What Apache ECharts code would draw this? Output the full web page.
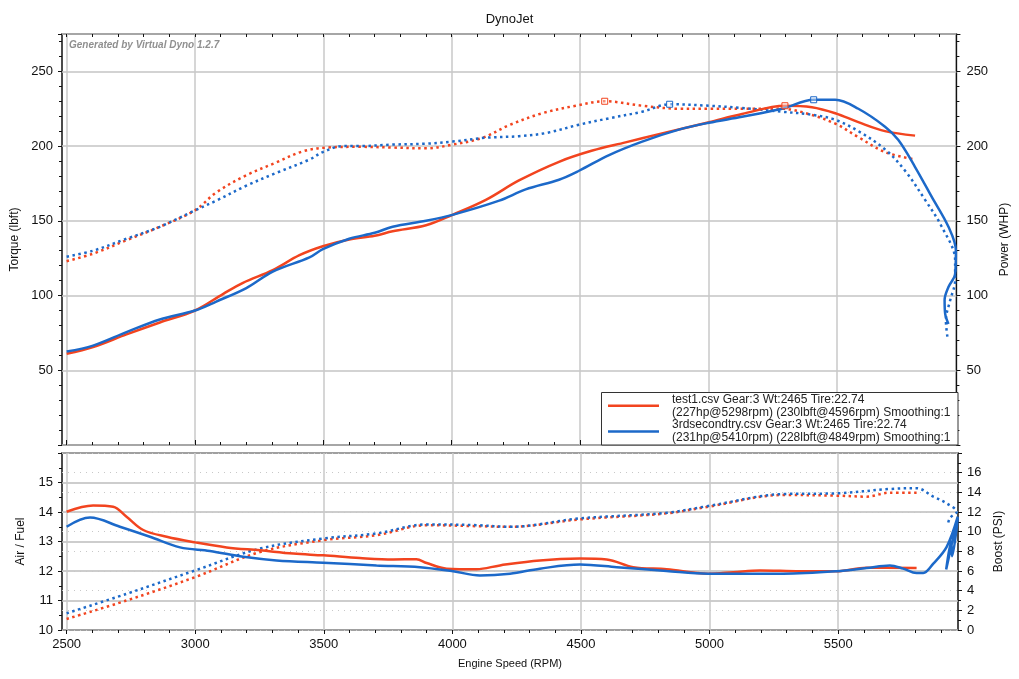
<!DOCTYPE html>
<html>
<head>
<meta charset="utf-8">
<script src="https://cdn.jsdelivr.net/npm/echarts@6/dist/echarts.min.js"></script>
<style>
html,body{margin:0;padding:0;background:#fff;}
#chart{width:1019px;height:679px;}
</style>
</head>
<body>
<div id="chart"></div>
<script>
// ---------- tick labels ----------
const rpmMajorTicks = [2500, 3000, 3500, 4000, 4500, 5000, 5500];
const rpmMinorTicks = [2500,2600,2700,2800,2900,3000,3100,3200,3300,3400,3500,3600,3700,3800,3900,
  4000,4100,4200,4300,4400,4500,4600,4700,4800,4900,5000,5100,5200,5300,5400,5500,5600,5700,5800,5900];

// ---------- run names ----------
const run1Name = 'test1.csv Gear:3 Wt:2465 Tire:22.74\n(227hp@5298rpm) (230lbft@4596rpm) Smoothing:1';
const run2Name = '3rdsecondtry.csv Gear:3 Wt:2465 Tire:22.74\n(231hp@5410rpm) (228lbft@4849rpm) Smoothing:1';

// ---------- test1.csv (red) ----------
const run1Power = [[2500,61],[2603,65.5],[2733,74],[2863,82],[3000,90],[3109,101],[3187,108.5],[3303,117],
  [3407,127],[3498,133],[3601,137.5],[3700,140],[3770,143],[3900,147],[4003,154],[4133,164],[4262,177],
  [4418,189.5],[4548,197],[4677,202.5],[4807,208],[5002,216],[5131,221.5],[5298,227],[5403,226],
  [5494,222],[5584,216],[5688,210],[5805,207]];
const run1Torque = [[2500,123],[2603,128],[2733,137],[2863,146],[3000,157],[3083,169],[3200,180.5],
  [3316,189],[3420,196.5],[3511,199],[3640,199.5],[3770,199],[3900,198.5],[4003,201],[4120,205.5],
  [4224,214],[4353,222],[4483,227],[4596,230],[4742,227],[4885,225],[5002,225],[5287,225],[5390,221.5],
  [5494,215],[5584,206],[5688,196],[5805,191]];
const run1AirFuel = [[2500,14.01],[2603,14.22],[2681,14.18],[2733,13.84],[2798,13.39],[2889,13.16],
  [3000,12.97],[3122,12.80],[3252,12.70],[3381,12.59],[3498,12.53],[3640,12.44],[3770,12.39],[3860,12.40],
  [3900,12.27],[3978,12.08],[4094,12.06],[4185,12.19],[4340,12.36],[4496,12.42],[4600,12.39],[4703,12.13],
  [4833,12.06],[4995,11.91],[5092,11.96],[5196,12.02],[5351,11.99],[5494,11.99],[5610,12.11],[5805,12.10]];
const run1Boost = [[2500,1.12],[2733,3.0],[3000,5.38],[3252,7.93],[3498,9.13],[3705,9.64],[3900,10.66],
  [4094,10.56],[4224,10.49],[4496,11.25],[4833,11.86],[4995,12.54],[5287,13.73],[5494,13.66],[5610,13.56],
  [5701,13.97],[5805,13.97]];

// ---------- 3rdsecondtry.csv (blue) ----------
const run2Power = [[2500,62.5],[2603,66.5],[2733,75.5],[2863,84],[3000,90],[3083,96],[3200,105],[3303,116],
  [3446,125.5],[3498,131],[3601,138],[3700,142],[3770,146],[3900,150],[4003,154],[4185,163.5],[4288,171],
  [4418,177.5],[4496,183.5],[4613,194],[4742,203],[4885,211],[5002,215.6],[5131,219.6],[5287,225],
  [5410,231],[5494,231],[5584,225],[5688,213],[5740,204],[5805,186],[5870,166],[5935,146],[5964,130],
  [5961,114.5],[5935,105.7],[5920,97],[5922,88],[5935,81]];
const run2Torque = [[2500,126],[2603,130],[2733,138],[2863,146],[3000,157],[3083,163.5],[3200,173.5],
  [3316,182],[3446,191],[3498,196],[3575,200],[3640,200],[3770,201],[3900,201.6],[4003,203],[4133,205.6],
  [4262,206.6],[4366,208.7],[4496,214.3],[4613,218.6],[4742,223],[4849,228],[5002,227],[5131,225.5],
  [5287,223],[5403,221],[5494,217.6],[5584,210],[5688,197.8],[5766,183.5],[5844,164],[5909,146],
  [5961,123.7],[5961,110],[5942,97],[5925,83.6],[5932,71]];
const run2AirFuel = [[2500,13.50],[2591,13.81],[2707,13.50],[2824,13.16],[2941,12.80],[3057,12.68],
  [3187,12.48],[3316,12.36],[3498,12.28],[3705,12.19],[3874,12.13],[4003,11.99],[4107,11.85],[4224,11.91],
  [4340,12.08],[4496,12.22],[4639,12.13],[4833,12.0],[4995,11.91],[5287,11.91],[5494,11.99],[5610,12.10],
  [5701,12.19],[5753,12.08],[5805,11.93],[5831,11.93],[5870,12.25],[5922,12.82],[5965,13.84],[5920,12.05],
  [5940,13.0],[5943,12.5],[5965,13.8]];
const run2Boost = [[2500,1.70],[2733,3.68],[3000,6.06],[3252,8.28],[3498,9.30],[3705,9.82],[3900,10.74],
  [4094,10.66],[4224,10.49],[4496,11.35],[4833,11.92],[4995,12.61],[5287,13.83],[5494,13.9],[5701,14.34],
  [5805,14.42],[5870,13.56],[5922,12.88],[5961,12.02],[5935,11.4],[5925,10.6]];

// ---------- peak markers ----------
const run1TorquePeak = [4596, 230];
const run1PowerPeak = [5298, 227];
const run2TorquePeak = [4849, 228];
const run2PowerPeak = [5410, 231];

// ---------- styling ----------
const RED = '#f2441f';
const BLUE = '#1c69c9';
const FONT = '"Liberation Sans", Arial, sans-serif';
const TXT = '#111';
const RPM_MIN = 2482, RPM_MAX = 5966;

function xAxisBase(grid, pos, extra) {
  return Object.assign({
    gridIndex: grid, type: 'value', position: pos, min: RPM_MIN, max: RPM_MAX,
    axisLine: {show: false}, axisLabel: {show: false}, splitLine: {show: false},
    axisTick: {show: false}
  }, extra);
}

function lineSeries(name, data, color, dotted, xi, yi, peak) {
  const s = {
    name: name, type: 'line', data: data, xAxisIndex: xi, yAxisIndex: yi,
    showSymbol: false, symbol: 'none', smooth: 0.35, color: color,
    lineStyle: {color: color, width: 2.5, type: dotted ? [2.5, 3.5] : 'solid', cap: 'butt'},
    z: dotted ? 3 : 4
  };
  if (peak) {
    s.markPoint = {
      symbol: 'rect', symbolSize: 6, silent: true,
      itemStyle: {color: 'rgba(255,255,255,0.4)', borderColor: color, borderWidth: 1},
      label: {show: false},
      data: [{coord: peak}]
    };
  }
  return s;
}

const chart = echarts.init(document.getElementById('chart'), null, {renderer: 'canvas'});
const axisNameStyle = {fontFamily: FONT, fontSize: 12, color: TXT};
const labelStyle = {fontFamily: FONT, fontSize: 13, color: TXT};

chart.setOption({
  animation: false,
  backgroundColor: '#fff',
  textStyle: {fontFamily: FONT},
  title: {text: 'DynoJet', left: 'center', top: 8,
    textStyle: {fontFamily: FONT, fontSize: 13, fontWeight: 'normal', color: TXT}},
  grid: [
    {left: 62, right: 61, top: 34, height: 411, show: true, borderColor: '#111', borderWidth: 1.5, backgroundColor: 'transparent'},
    {left: 62, right: 61, top: 453, height: 177, show: true, borderColor: '#111', borderWidth: 1.5, backgroundColor: 'transparent'}
  ],
  xAxis: [
    xAxisBase(0, 'bottom', {
      axisTick: {show: true, inside: true, length: 5, customValues: rpmMajorTicks, lineStyle: {color: '#111'}},
      splitLine: {show: true, lineStyle: {color: '#c8c8c8', width: 1.5}}
    }),
    xAxisBase(0, 'bottom', {axisTick: {show: true, inside: true, length: 3, customValues: rpmMinorTicks, lineStyle: {color: '#111'}}}),
    xAxisBase(0, 'top', {axisTick: {show: true, inside: true, length: 3, customValues: rpmMinorTicks, lineStyle: {color: '#111'}}}),
    xAxisBase(1, 'bottom', {
      name: 'Engine Speed (RPM)', nameLocation: 'middle', nameGap: 28,
      nameTextStyle: {fontFamily: FONT, fontSize: 11, color: TXT},
      axisLabel: {show: true, customValues: rpmMajorTicks, margin: 8, fontFamily: FONT, fontSize: 13, color: TXT,
        formatter: function (v) { return String(v); }},
      axisTick: {show: true, inside: false, length: 4, customValues: rpmMajorTicks, lineStyle: {color: '#111'}},
      splitLine: {show: true, lineStyle: {color: '#c8c8c8', width: 1.5}}
    }),
    xAxisBase(1, 'bottom', {axisTick: {show: true, inside: false, length: 3, customValues: rpmMinorTicks, lineStyle: {color: '#111'}}})
  ],
  yAxis: [
    {gridIndex: 0, type: 'value', position: 'left', min: 0, max: 275, interval: 50,
      name: 'Torque (lbft)', nameLocation: 'middle', nameRotate: 90, nameGap: 38, nameTextStyle: axisNameStyle,
      axisLine: {show: false},
      axisLabel: Object.assign({margin: 9, showMinLabel: false, showMaxLabel: false}, labelStyle),
      axisTick: {show: true, length: 4, lineStyle: {color: '#111'}},
      minorTick: {show: true, splitNumber: 5, length: 3, lineStyle: {color: '#111'}},
      splitLine: {show: true, lineStyle: {color: '#c4c4c4', width: 1.5}}},
    {gridIndex: 0, type: 'value', position: 'right', min: 0, max: 275, interval: 50,
      name: 'Power (WHP)', nameLocation: 'middle', nameRotate: 90, nameGap: 38, nameTextStyle: axisNameStyle,
      axisLine: {show: false},
      axisLabel: Object.assign({margin: 10, showMinLabel: false, showMaxLabel: false}, labelStyle),
      axisTick: {show: true, length: 4, lineStyle: {color: '#111'}},
      minorTick: {show: true, splitNumber: 5, length: 3, lineStyle: {color: '#111'}},
      splitLine: {show: false}},
    {gridIndex: 1, type: 'value', position: 'left', min: 10, max: 16, interval: 1,
      name: 'Air / Fuel', nameLocation: 'middle', nameRotate: 90, nameGap: 35, nameTextStyle: axisNameStyle,
      axisLine: {show: false},
      axisLabel: Object.assign({margin: 9, showMaxLabel: false}, labelStyle),
      axisTick: {show: true, length: 4, lineStyle: {color: '#111'}},
      minorTick: {show: true, splitNumber: 2, length: 3, lineStyle: {color: '#111'}},
      splitLine: {show: true, lineStyle: {color: '#bdbdbd', width: 1.5}}},
    {gridIndex: 1, type: 'value', position: 'right', min: 0, max: 18, interval: 2,
      name: 'Boost (PSI)', nameLocation: 'middle', nameRotate: 90, nameGap: 32, nameTextStyle: axisNameStyle,
      axisLine: {show: false},
      axisLabel: Object.assign({margin: 9, showMaxLabel: false}, labelStyle),
      axisTick: {show: true, length: 4, lineStyle: {color: '#111'}},
      minorTick: {show: true, splitNumber: 2, length: 3, lineStyle: {color: '#111'}},
      splitLine: {show: true, lineStyle: {color: '#c8c8c8', width: 1, type: [1, 5]}}}
  ],
  legend: {
    orient: 'vertical', left: 608, top: 393, padding: 0, itemGap: 0,
    itemWidth: 51, itemHeight: 2.5, icon: 'rect', z: 10,
    selectedMode: false,
    textStyle: {fontFamily: FONT, fontSize: 12, lineHeight: 12.8, color: '#222', padding: [0, 0, 0, 8]},
    data: [run1Name, run2Name]
  },
  graphic: [
    {type: 'rect', z: 9, silent: true,
      shape: {x: 601.5, y: 392.5, width: 356.5, height: 52.5},
      style: {fill: '#fff', stroke: '#333', lineWidth: 1}},
    {type: 'text', left: 69, top: 40, z: 9, silent: true,
      style: {text: 'Generated by Virtual Dyno 1.2.7', fill: '#909090',
        font: 'italic bold 10px "Liberation Sans", Arial, sans-serif'}}
  ],
  series: [
    lineSeries(run1Name, run1Torque, RED, true, 0, 0, run1TorquePeak),
    lineSeries(run2Name, run2Torque, BLUE, true, 0, 0, run2TorquePeak),
    lineSeries(run1Name, run1Power, RED, false, 0, 1, run1PowerPeak),
    lineSeries(run2Name, run2Power, BLUE, false, 0, 1, run2PowerPeak),
    lineSeries(run1Name, run1AirFuel, RED, false, 3, 2, null),
    lineSeries(run2Name, run2AirFuel, BLUE, false, 3, 2, null),
    lineSeries(run1Name, run1Boost, RED, true, 3, 3, null),
    lineSeries(run2Name, run2Boost, BLUE, true, 3, 3, null)
  ]
});
</script>
</body>
</html>
